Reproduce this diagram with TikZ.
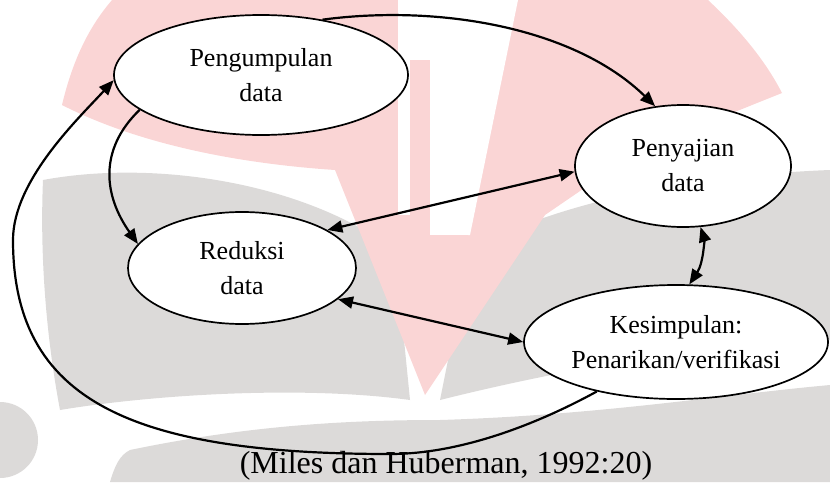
\documentclass[tikz,border=0pt]{standalone}
\usepackage{fontspec}
\setmainfont{Liberation Serif}
\usetikzlibrary{arrows.meta,shapes.geometric}
\definecolor{wmpink}{RGB}{250,213,213}
\definecolor{wmgrey}{RGB}{220,218,217}
\begin{document}
\begin{tikzpicture}[x=1pt,y=-1pt,
  proc/.style={ellipse, draw, line width=1.7pt, fill=white, inner sep=0pt, align=center,
    font=\fontsize{26}{35}\selectfont},
  tip/.tip={Triangle[length=15pt,width=12pt]},
  link/.style={line width=2.2pt, -tip},
  dlink/.style={line width=2.2pt, tip-tip}]
\useasboundingbox (0,0) rectangle (830,482);
\clip (0,0) rectangle (830,482);
% ---- watermark (background logo) ----
\fill[wmgrey] (43,180) .. controls (150,160) and (300,180) .. (395,250) -- (410,400)
  .. controls (300,385) and (150,395) .. (60,410) .. controls (45,330) and (40,250) .. (43,180) -- cycle;
\fill[wmgrey] (470,250) .. controls (560,200) and (700,175) .. (830,170) -- (830,340)
  .. controls (700,345) and (560,370) .. (440,400) -- cycle;
\fill[wmgrey] (110,482) .. controls (115,465) and (120,455) .. (130,450)
  .. controls (250,425) and (350,420) .. (440,420) .. controls (600,415) and (720,395) .. (830,385)
  -- (830,482) -- cycle;
\fill[wmgrey] (0,440) circle (38pt);
\fill[wmpink] (62,105) .. controls (75,50) and (95,20) .. (112,0) -- (708,0)
  .. controls (740,30) and (765,60) .. (782,93) -- (640,150) -- (545,215) -- (425,395) -- (335,170)
  .. controls (260,165) and (150,150) .. (62,105) -- cycle;
\fill[white] (398,0) rectangle (410,215);
\fill[white] (410,0) rectangle (430,60);
\fill[white] (430,0) rectangle (468,235);
\fill[white] (468,0) -- (518,0) -- (470,235) -- (468,235) -- cycle;
% ---- diagram ----
\node[proc, minimum width=294pt, minimum height=120pt] (A) at (261,75) {Pengumpulan\\data};
\node[proc, minimum width=216pt, minimum height=122pt] (B) at (683,166) {Penyajian\\data};
\node[proc, minimum width=228pt, minimum height=112pt] (C) at (242,268) {Reduksi\\data};
\node[proc, minimum width=304pt, minimum height=114pt] (D) at (676,342) {Kesimpulan:\\Penarikan/verifikasi};
\node[inner sep=0pt, font=\fontsize{32}{38}\selectfont] (cap) at (446,466) {(Miles dan Huberman, 1992:20)};
\draw[link] (A.42) .. controls (440,4) and (575,28) .. (B.115);
\draw[link] (A.196) .. controls (98,150) and (104,196) .. (C.167);
\draw[dlink] (C.24) -- (B.183);
\draw[dlink] (B.286) .. controls (704,238) and (704,262) .. (D.77);
\draw[dlink] (C.-18) -- (D.180);
\draw[link] (D.212) .. controls (552,416) and (470,454) .. (390,454)
  .. controls (130,454) and (13,400) .. (13,240)
  .. controls (13,180) and (80,117) .. (A.182);
\end{tikzpicture}
\end{document}
